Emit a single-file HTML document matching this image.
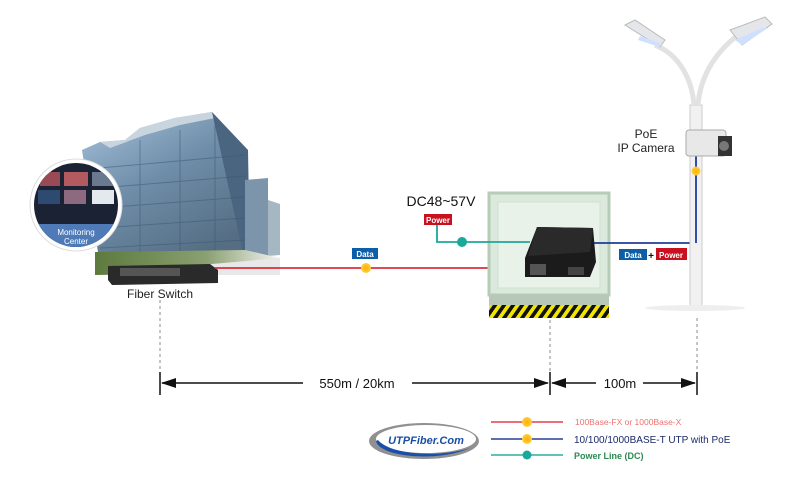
<!DOCTYPE html>
<html><head><meta charset="utf-8"><style>
body{margin:0;width:800px;height:495px;overflow:hidden;background:#fff;font-family:"Liberation Sans",sans-serif}
</style></head><body>
<svg width="800" height="495" viewBox="0 0 800 495" xmlns="http://www.w3.org/2000/svg" font-family="Liberation Sans, sans-serif">
<defs>
<linearGradient id="bld" x1="0" y1="0" x2="0.6" y2="1"><stop offset="0" stop-color="#a9c3dc"/><stop offset="0.5" stop-color="#6f8ea9"/><stop offset="1" stop-color="#556e84"/></linearGradient>
<linearGradient id="grass" x1="0" y1="0" x2="1" y2="0"><stop offset="0" stop-color="#5d7a3e"/><stop offset="0.6" stop-color="#8aa070"/><stop offset="1" stop-color="#f2f2f2"/></linearGradient>
<pattern id="haz" width="9" height="14" patternUnits="userSpaceOnUse" patternTransform="skewX(-35)"><rect width="9" height="14" fill="#111"/><rect width="4.5" height="14" fill="#f2e600"/></pattern>
<radialGradient id="org"><stop offset="0" stop-color="#ffb000"/><stop offset="1" stop-color="#ffcf40"/></radialGradient>
</defs>
<!-- buildings -->
<polygon points="82,150 100,142 125,140 140,128 175,118 212,112 245,148 248,262 100,265" fill="url(#bld)"/>
<polygon points="100,142 125,140 140,128 175,118 212,112 215,118 180,125 145,135 110,148" fill="#c8d4de"/>
<polygon points="212,112 248,150 250,262 245,262" fill="#4a6580"/>
<polygon points="245,180 268,178 268,258 245,260" fill="#7c95aa"/>
<polygon points="268,200 280,204 280,255 268,256" fill="#a5b7c3"/>
<g stroke="#3d5570" stroke-width="1" opacity="0.5">
<line x1="100" y1="168" x2="245" y2="155"/><line x1="100" y1="188" x2="245" y2="176"/><line x1="100" y1="208" x2="245" y2="197"/><line x1="100" y1="228" x2="245" y2="218"/><line x1="100" y1="248" x2="245" y2="240"/>
<line x1="140" y1="140" x2="140" y2="262"/><line x1="180" y1="130" x2="180" y2="262"/><line x1="215" y1="125" x2="215" y2="262"/>
</g>
<polygon points="95,252 245,250 280,258 280,272 95,275" fill="url(#grass)"/>
<polygon points="200,265 280,258 280,275 215,275" fill="#e8e8e8"/>
<!-- monitoring center -->
<circle cx="76" cy="205" r="46" fill="#fff" stroke="#ddd" stroke-width="1"/>
<clipPath id="cc"><circle cx="76" cy="205" r="42"/></clipPath>
<g clip-path="url(#cc)">
<rect x="30" y="160" width="95" height="90" fill="#1a2233"/>
<rect x="40" y="172" width="20" height="14" fill="#9a4a55"/><rect x="64" y="172" width="24" height="14" fill="#b35a60"/><rect x="92" y="172" width="22" height="14" fill="#6a7890"/>
<rect x="38" y="190" width="22" height="14" fill="#2f4a70"/><rect x="64" y="190" width="22" height="14" fill="#8d6a80"/><rect x="92" y="190" width="22" height="14" fill="#e4e8ef"/>
<rect x="30" y="224" width="95" height="30" fill="#4e7ab8"/>
</g>
<text x="76" y="235" font-size="8" fill="#fff" text-anchor="middle">Monitoring</text>
<text x="76" y="244" font-size="8" fill="#fff" text-anchor="middle">Center</text>
<!-- switch -->
<polygon points="108,266 210,264 218,270 218,283 112,285 108,280" fill="#2a2a2a"/>
<rect x="120" y="268" width="60" height="8" fill="#555"/>
<text x="160" y="298" font-size="12" fill="#222" text-anchor="middle">Fiber Switch</text>
<!-- red line -->
<line x1="215" y1="268" x2="528" y2="268" stroke="#d8303c" stroke-width="1.8"/>
<circle cx="366" cy="268" r="5" fill="url(#org)"/>
<rect x="352" y="248" width="26" height="11" fill="#0d5ea8"/>
<text x="365" y="257" font-size="8" fill="#fff" text-anchor="middle" font-weight="bold">Data</text>
<!-- cabinet -->
<rect x="489" y="193" width="120" height="102" fill="#dbe9dc" stroke="#b6ccb6" stroke-width="3"/>
<rect x="498" y="202" width="102" height="86" fill="#e8f2e8" stroke="#cfe0cf"/>
<rect x="489" y="295" width="120" height="10" fill="#b8c8b8"/>
<rect x="489" y="305" width="120" height="13" fill="url(#haz)"/>
<!-- teal power line -->
<polyline points="437,225 437,242 530,242" fill="none" stroke="#1aa89a" stroke-width="1.8"/>
<circle cx="462" cy="242" r="5" fill="#1aa89a"/>
<rect x="424" y="214" width="28" height="11" fill="#c8101e"/>
<text x="438" y="223" font-size="8" fill="#fff" text-anchor="middle" font-weight="bold">Power</text>
<text x="441" y="206" font-size="14" fill="#111" text-anchor="middle">DC48~57V</text>
<!-- blue line -->
<polyline points="590,243 696,243 696,155" fill="none" stroke="#1e3c9a" stroke-width="1.8"/>
<!-- device -->
<polygon points="537,227 593,228 596,262 590,277 525,277 525,258" fill="#1b1b1b"/>
<polygon points="537,227 593,228 590,252 528,256" fill="#2a2a2a"/>
<rect x="530" y="264" width="16" height="11" fill="#555"/>
<rect x="568" y="267" width="16" height="8" fill="#444"/>
<!-- Data+Power label -->
<rect x="619" y="249" width="28" height="11" fill="#0d5ea8"/>
<text x="633" y="258" font-size="8" fill="#fff" text-anchor="middle" font-weight="bold">Data</text>
<text x="651" y="259" font-size="10" fill="#111" text-anchor="middle" font-weight="bold">+</text>
<rect x="656" y="248" width="31" height="12" fill="#c8101e"/>
<text x="671" y="258" font-size="8" fill="#fff" text-anchor="middle" font-weight="bold">Power</text>
<!-- pole -->
<rect x="690" y="105" width="12" height="203" fill="#f1f1f1" stroke="#ccc"/>
<line x1="696" y1="155" x2="696" y2="243" stroke="#1e3c9a" stroke-width="1.8"/>
<circle cx="696" cy="171" r="4.5" fill="url(#org)"/>
<path d="M694 105 C692 80 680 55 655 45" fill="none" stroke="#e2e2e2" stroke-width="5"/>
<path d="M698 105 C700 80 712 55 738 35" fill="none" stroke="#e2e2e2" stroke-width="5"/>
<polygon points="625,25 635,20 665,40 660,47" fill="#e4e6ea" stroke="#bbb"/>
<polygon points="638,40 660,47 662,44 640,36" fill="#cfe0ff"/>
<polygon points="730,30 765,17 772,24 742,45" fill="#e4e6ea" stroke="#bbb"/>
<polygon points="735,40 742,45 768,28 762,28" fill="#cfe0ff"/>
<rect x="686" y="130" width="40" height="26" rx="3" fill="#e8e8e8" stroke="#aaa"/>
<rect x="718" y="136" width="14" height="20" fill="#333"/>
<circle cx="724" cy="146" r="5" fill="#777"/>
<text x="646" y="138" font-size="12" fill="#222" text-anchor="middle">PoE</text>
<text x="646" y="152" font-size="12" fill="#222" text-anchor="middle">IP Camera</text>
<ellipse cx="695" cy="308" rx="50" ry="3" fill="#eee"/>
<!-- dimension -->
<g stroke="#888" stroke-dasharray="3,3" stroke-width="1">
<line x1="160" y1="300" x2="160" y2="372"/><line x1="550" y1="320" x2="550" y2="372"/><line x1="697" y1="318" x2="697" y2="372"/>
</g>
<g stroke="#111" stroke-width="1.5">
<line x1="160" y1="372" x2="160" y2="395"/><line x1="550" y1="372" x2="550" y2="395"/><line x1="697" y1="372" x2="697" y2="395"/>
<line x1="162" y1="383" x2="303" y2="383"/><line x1="412" y1="383" x2="548" y2="383"/>
<line x1="552" y1="383" x2="596" y2="383"/><line x1="643" y1="383" x2="695" y2="383"/>
</g>
<g fill="#111">
<polygon points="161,383 176,378 176,388"/><polygon points="549,383 534,378 534,388"/>
<polygon points="551,383 566,378 566,388"/><polygon points="696,383 681,378 681,388"/>
</g>
<text x="357" y="388" font-size="13" fill="#111" text-anchor="middle">550m / 20km</text>
<text x="620" y="388" font-size="13" fill="#111" text-anchor="middle">100m</text>
<!-- logo -->
<ellipse cx="424" cy="441" rx="55" ry="18" fill="#909090"/>
<ellipse cx="426" cy="439" rx="50" ry="14" fill="#fff"/>
<path d="M376 441 C380 458 440 462 470 448 C440 458 390 455 378 440 Z" fill="#1a4fa8"/>
<text x="426" y="444" font-size="11" font-style="italic" font-weight="bold" fill="#1a4fa8" text-anchor="middle">UTPFiber.Com</text>
<!-- legend -->
<line x1="491" y1="422" x2="563" y2="422" stroke="#e04050" stroke-width="1.5"/><circle cx="527" cy="422" r="5" fill="url(#org)"/>
<line x1="491" y1="439" x2="563" y2="439" stroke="#2a3f9a" stroke-width="1.5"/><circle cx="527" cy="439" r="5" fill="url(#org)"/>
<line x1="491" y1="455" x2="563" y2="455" stroke="#2ab0a0" stroke-width="1.5"/><circle cx="527" cy="455" r="4.5" fill="#1aa89a"/>
<text x="575" y="425" font-size="8.5" fill="#f07070">100Base-FX or 1000Base-X</text>
<text x="574" y="443" font-size="10" fill="#1a2a6a">10/100/1000BASE-T UTP with PoE</text>
<text x="574" y="459" font-size="9" font-weight="bold" fill="#2a8a50">Power Line (DC)</text>
</svg>
</body></html>
